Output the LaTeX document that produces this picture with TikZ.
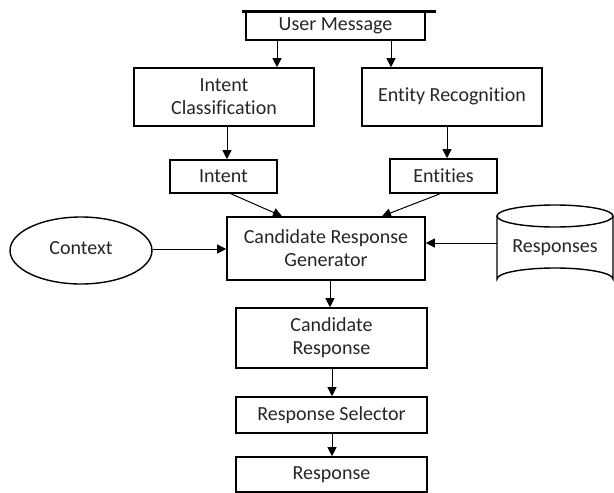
\documentclass[tikz,border=0pt]{standalone}
\usepackage{fontspec}
\setmainfont{Carlito}[Ligatures=NoCommon]
\usetikzlibrary{arrows.meta,shapes.geometric,calc}
\definecolor{txt}{HTML}{262626}
\tikzset{
  box/.style={draw=black, line width=1.6pt, rectangle, inner sep=0pt, align=center, text=txt,
    font=\fontsize{20}{23}\selectfont},
  oval/.style={draw=black, line width=1.4pt, ellipse, inner sep=0pt, text=txt,
    font=\fontsize{20}{23}\selectfont},
  plain/.style={inner sep=0pt, text=txt, font=\fontsize{20}{23}\selectfont},
  arr/.style={line width=1pt, -{Triangle[length=9pt,width=9pt]}},
}
\begin{document}
\begin{tikzpicture}[x=1pt,y=-1pt]
\useasboundingbox (0,0) rectangle (614,493);

\node[box, minimum width=179pt, minimum height=28pt] (um) at (335.5,26) {User Message};
\draw[line width=2.6pt] ([xshift=-3pt]um.north west) -- ([xshift=10pt]um.north east);

\node[box, minimum width=180pt, minimum height=58pt] (ic) at (224,97) {Intent\\Classification};
\node[box, minimum width=180pt, minimum height=58pt] (er) at (452,97) {\raisebox{5pt}{Entity Recognition}};

\node[box, minimum width=107pt, minimum height=33pt] (intent) at (223.5,176.5) {Intent};
\node[box, minimum width=107pt, minimum height=34pt] (ent) at (443.5,176) {Entities};

\node[box, minimum width=198pt, minimum height=63pt] (crg) at (326,248.5) {Candidate Response\\Generator};
\node[oval, minimum width=142pt, minimum height=67pt] (ctx) at (81,250.5) {\raisebox{4pt}{Context}};

% Responses cylinder
\node[plain, minimum width=116pt, minimum height=85pt] (resp) at (555,247.5) {Responses};
\draw[line width=1.4pt] (555,216) ellipse [x radius=58, y radius=11];
\draw[line width=1.4pt] (497,216) -- (497,279) arc[start angle=180, end angle=360, x radius=58, y radius=11] -- (613,216);

\node[box, minimum width=191pt, minimum height=60pt] (cr) at (331.5,338) {Candidate\\Response};
\node[box, minimum width=191pt, minimum height=36pt] (rs) at (331.5,415) {Response Selector};
\node[box, minimum width=191pt, minimum height=35pt] (res) at (331.5,474.5) {Response};

\draw[arr] ([xshift=-58.5pt]um.south) -- ([xshift=-58.5pt]um.south |- ic.north);
\draw[arr] ([xshift=55.5pt]um.south) -- ([xshift=55.5pt]um.south |- er.north);
\draw[arr] ([xshift=3pt]ic.south) -- ([xshift=3pt]ic.south |- intent.north);
\draw[arr] ([xshift=-5pt]er.south) -- ([xshift=-5pt]er.south |- ent.north);
\draw[arr] ([xshift=7.5pt]intent.south) -- ([xshift=-44pt]crg.north);
\draw[arr] ([xshift=-3.5pt]ent.south) -- ([xshift=56pt]crg.north);
\draw[arr] ([yshift=1.5pt]ctx.east) -- ([yshift=1.5pt]ctx.east -| crg.west);
\draw[arr] ([yshift=4.5pt]resp.west) -- ([yshift=4.5pt]resp.west -| crg.east);
\draw[arr] ([xshift=4pt]crg.south) -- ([xshift=4pt]crg.south |- cr.north);
\draw[arr] ([xshift=0.5pt]cr.south) -- ([xshift=0.5pt]cr.south |- rs.north);
\draw[arr] ([xshift=0.5pt]rs.south) -- ([xshift=0.5pt]rs.south |- res.north);
\end{tikzpicture}
\end{document}
